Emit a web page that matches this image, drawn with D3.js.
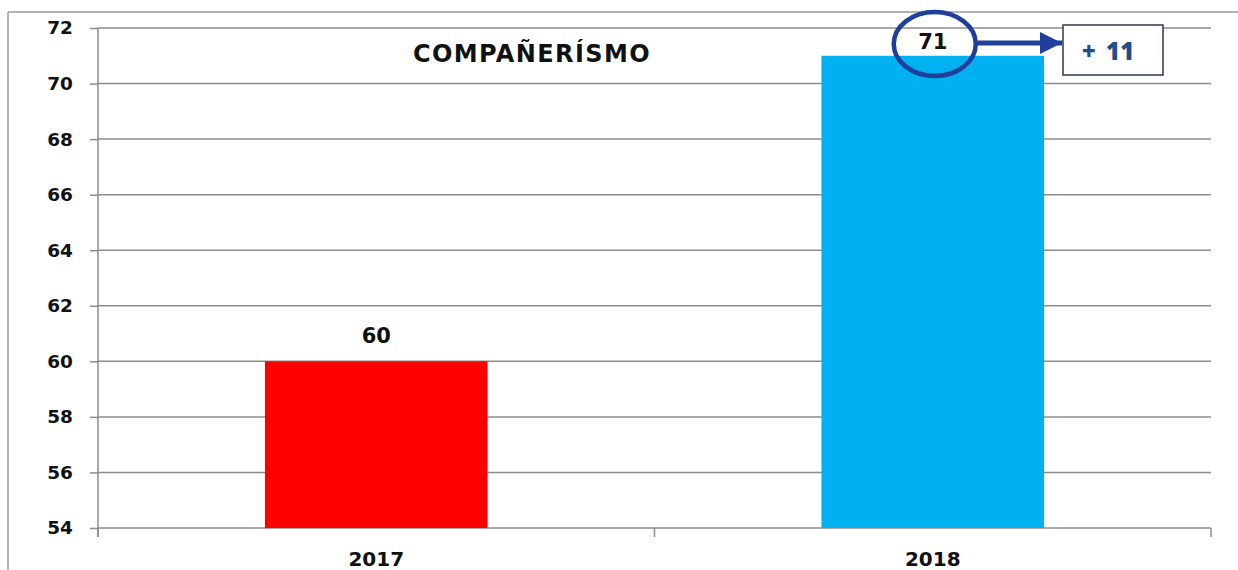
<!DOCTYPE html>
<html>
<head>
<meta charset="utf-8">
<script src="https://cdn.jsdelivr.net/npm/d3@7"></script>
<style>
  html, body { margin: 0; padding: 0; background: #fff; }
  svg { display: block; }
  text { font-family: "DejaVu Sans", sans-serif; font-weight: 700; }
  text.change { font-family: "Open Sans", sans-serif; font-weight: 800; word-spacing: 4px; }
</style>
</head>
<body>
<svg id="chart" width="1238" height="570"></svg>
<script>
// Data
const years = ["2017", "2018"];
const scores = [60, 71];
const barColors = ["#FF0000", "#00B0F0"];
const yTicks = [54, 56, 58, 60, 62, 64, 66, 68, 70, 72];
const chartTitle = "COMPAÑERÍSMO";
const changeLabel = "+ 11";

const svg = d3.select("#chart");
const W = 1238, H = 570;
const margin = { top: 28, right: 27, bottom: 42, left: 98 };
const plotW = W - margin.left - margin.right;
const plotH = H - margin.top - margin.bottom;

// Outer frame (top and left edges visible)
svg.append("line").attr("x1", 8).attr("x2", W).attr("y1", 12).attr("y2", 12)
  .attr("stroke", "#9a9a9a").attr("stroke-width", 1.5);
svg.append("line").attr("x1", 8).attr("x2", 8).attr("y1", 12).attr("y2", H)
  .attr("stroke", "#9a9a9a").attr("stroke-width", 1.5);

const g = svg.append("g").attr("transform", `translate(${margin.left},${margin.top})`);

const x = d3.scaleBand().domain(years).range([0, plotW]).paddingInner(0.6).paddingOuter(0.3);
const y = d3.scaleLinear().domain([54, 72]).range([plotH, 0]);

// Gridlines
g.append("g")
  .selectAll("line")
  .data(yTicks)
  .join("line")
  .attr("x1", 0).attr("x2", plotW)
  .attr("y1", d => y(d)).attr("y2", d => y(d))
  .attr("stroke", "#8c8c8c").attr("stroke-width", 1.5);

// Y axis
const yAxis = g.append("g")
  .call(d3.axisLeft(y).tickValues(yTicks).tickSize(8).tickPadding(17).tickSizeOuter(0));
yAxis.select(".domain").attr("stroke", "#8c8c8c").attr("stroke-width", 1.5)
  .attr("d", `M0,0V${plotH + 9}`);
yAxis.selectAll(".tick line").attr("stroke", "#8c8c8c").attr("stroke-width", 1.5);
yAxis.selectAll(".tick text").attr("font-size", 18.5).attr("fill", "#111")
  .style("font-family", "'DejaVu Sans', sans-serif").style("font-weight", 700);

// X axis: category separators at band boundaries
const bounds = [0, plotW / 2, plotW];
g.append("g").selectAll("line").data(bounds).join("line")
  .attr("x1", d => d).attr("x2", d => d)
  .attr("y1", plotH).attr("y2", plotH + 9)
  .attr("stroke", "#8c8c8c").attr("stroke-width", 1.5);
g.append("g").selectAll("text").data(years).join("text")
  .attr("x", d => x(d) + x.bandwidth() / 2)
  .attr("y", plotH + 38)
  .attr("text-anchor", "middle")
  .attr("font-size", 20).attr("fill", "#111")
  .text(d => d);

// Bars
const rows = years.map((yr, i) => ({ year: yr, value: scores[i], color: barColors[i] }));
g.append("g").selectAll("rect").data(rows).join("rect")
  .attr("x", d => x(d.year))
  .attr("width", x.bandwidth())
  .attr("y", d => y(d.value))
  .attr("height", d => plotH - y(d.value))
  .attr("fill", d => d.color);

// Value labels (kept inside the plot area near the top)
g.append("g").selectAll("text").data(rows).join("text")
  .attr("x", d => x(d.year) + x.bandwidth() / 2)
  .attr("y", d => Math.max(y(d.value) - 18, 21))
  .attr("text-anchor", "middle")
  .attr("font-size", 21).attr("fill", "#111")
  .text(d => d.value);

// Title
g.append("text")
  .attr("x", 434).attr("y", 34)
  .attr("text-anchor", "middle")
  .attr("font-size", 24).attr("letter-spacing", 1.4).attr("fill", "#111")
  .text(chartTitle);

// Highlight ring around the latest value, with arrow to the change box
const last = rows[rows.length - 1];
const cx = x(last.year) + x.bandwidth() / 2 + 2;
const cy = 16;
const navy = "#1F3F9A";
g.append("ellipse")
  .attr("cx", cx).attr("cy", cy).attr("rx", 41).attr("ry", 32)
  .attr("fill", "none").attr("stroke", navy).attr("stroke-width", 4.5);

const defs = svg.append("defs");
defs.append("marker").attr("id", "arrowHead")
  .attr("viewBox", "0 0 10 10").attr("refX", 10).attr("refY", 5)
  .attr("markerWidth", 5).attr("markerHeight", 4.4).attr("markerUnits", "strokeWidth")
  .attr("orient", "auto")
  .append("path").attr("d", "M0,0L10,5L0,10Z").attr("fill", navy);

g.append("line")
  .attr("x1", cx + 42).attr("x2", 964)
  .attr("y1", 15).attr("y2", 15)
  .attr("stroke", navy).attr("stroke-width", 5)
  .attr("marker-end", "url(#arrowHead)");

g.append("rect")
  .attr("x", 965).attr("y", -3).attr("width", 100).attr("height", 50)
  .attr("fill", "#fff").attr("stroke", "#2b3a55").attr("stroke-width", 1.5);
g.append("text")
  .attr("class", "change")
  .attr("x", 1010).attr("y", 32)
  .attr("text-anchor", "middle")
  .attr("font-size", 24).attr("fill", "#1F4E8C")
  .text(changeLabel);
</script>
</body>
</html>
